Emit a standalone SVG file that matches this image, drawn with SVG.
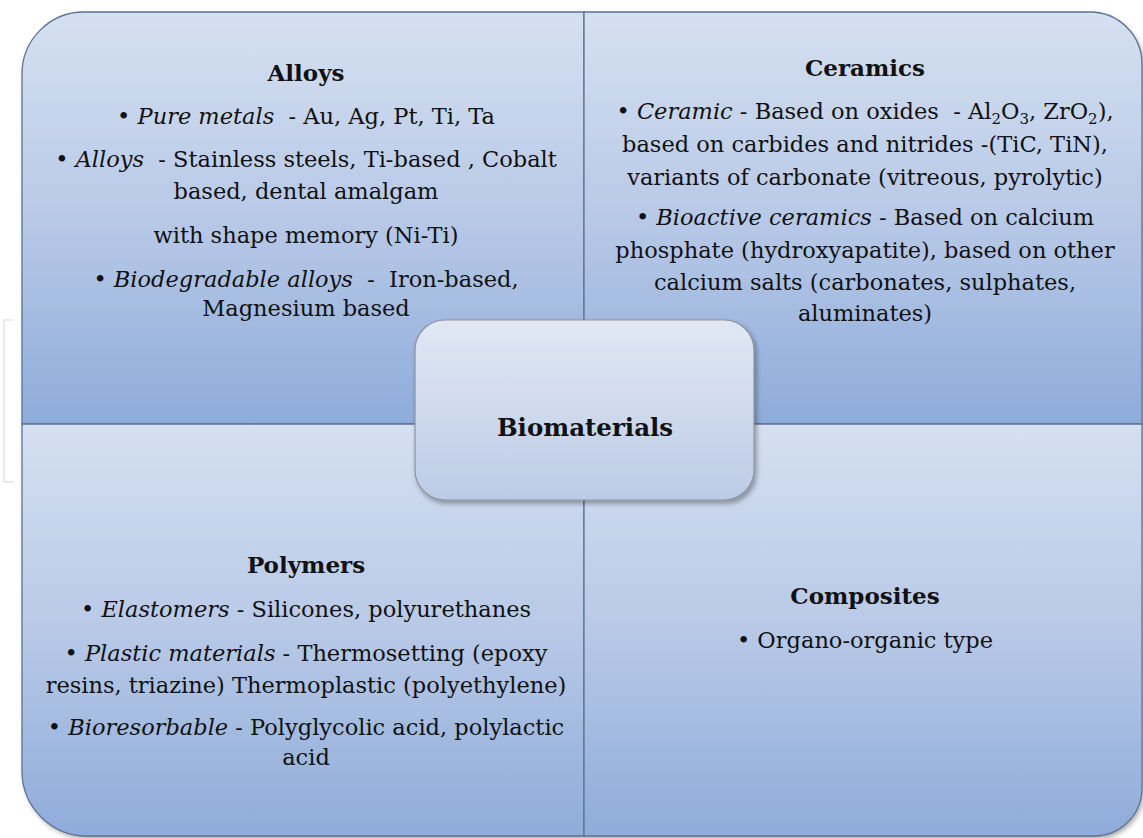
<svg xmlns="http://www.w3.org/2000/svg" width="1143" height="838" viewBox="0 0 1143 838">
<style>
  text { font-family: "DejaVu Serif", "Liberation Serif", serif; font-size: 22.5px; fill: #111; text-anchor: middle; white-space: pre; }
  .h { font-weight: bold; font-size: 23px; }
  .big { font-weight: bold; font-size: 24.5px; }
  .i { font-style: italic; }
  .quad { stroke: #5e7396; stroke-width: 1.3; }
  .sub { font-size: 15px; }
</style>
<defs>
  <linearGradient id="gq" x1="0" y1="0" x2="0" y2="1">
    <stop offset="0" stop-color="#d5e0f1"/>
    <stop offset="0.5" stop-color="#b8c9e7"/>
    <stop offset="1" stop-color="#8eacda"/>
  </linearGradient>
  <linearGradient id="gc" x1="0" y1="0" x2="0" y2="1">
    <stop offset="0" stop-color="#e1e8f4"/>
    <stop offset="1" stop-color="#bccbe6"/>
  </linearGradient>
  <filter id="sh" x="-5%" y="-5%" width="115%" height="115%">
    <feDropShadow dx="2" dy="3" stdDeviation="2.5" flood-color="#000" flood-opacity="0.35"/>
  </filter>
</defs>
<rect width="1143" height="838" fill="#ffffff"/>
<path d="M14,320 H4 V482 H14" fill="none" stroke="#e4e4e4" stroke-width="1.5"/>
<path d="M22,74 A62,62 0 0 1 84,12 H1090 A52,52 0 0 1 1142,64 V789 A48,48 0 0 1 1094,836 H87 A65,65 0 0 1 22,771 Z" fill="#8eacda" filter="url(#sh)"/>

<g id="alloys">
  <path class="quad" d="M22,424 V74 A62,62 0 0 1 84,12 H584 V424 Z" fill="url(#gq)"/>
  <text class="h" x="306" y="81">Alloys</text>
  <text x="306" y="124">• <tspan class="i">Pure metals</tspan>  - Au, Ag, Pt, Ti, Ta</text>
  <text x="306" y="167">• <tspan class="i">Alloys</tspan>  - Stainless steels, Ti-based , Cobalt</text>
  <text x="306" y="199">based, dental amalgam</text>
  <text x="306" y="243">with shape memory (Ni-Ti)</text>
  <text x="306" y="287">• <tspan class="i">Biodegradable alloys</tspan>  -  Iron-based,</text>
  <text x="306" y="316">Magnesium based</text>
</g>

<g id="ceramics">
  <path class="quad" d="M584,12 H1090 A52,52 0 0 1 1142,64 V424 H584 Z" fill="url(#gq)"/>
  <text class="h" x="865" y="76">Ceramics</text>
  <text x="865" y="119">• <tspan class="i">Ceramic</tspan> - Based on oxides  - Al<tspan class="sub" dy="5">2</tspan><tspan dy="-5">O</tspan><tspan class="sub" dy="5">3</tspan><tspan dy="-5">, ZrO</tspan><tspan class="sub" dy="5">2</tspan><tspan dy="-5">),</tspan></text>
  <text x="865" y="152">based on carbides and nitrides -(TiC, TiN),</text>
  <text x="865" y="185">variants of carbonate (vitreous, pyrolytic)</text>
  <text x="865" y="225">• <tspan class="i">Bioactive ceramics</tspan> - Based on calcium</text>
  <text x="865" y="258">phosphate (hydroxyapatite), based on other</text>
  <text x="865" y="290">calcium salts (carbonates, sulphates,</text>
  <text x="865" y="321">aluminates)</text>
</g>

<g id="polymers">
  <path class="quad" d="M22,424 H584 V836 H87 A65,65 0 0 1 22,771 Z" fill="url(#gq)"/>
  <text class="h" x="306" y="573">Polymers</text>
  <text x="306" y="617">• <tspan class="i">Elastomers</tspan> - Silicones, polyurethanes</text>
  <text x="306" y="661">• <tspan class="i">Plastic materials</tspan> - Thermosetting (epoxy</text>
  <text x="306" y="693">resins, triazine) Thermoplastic (polyethylene)</text>
  <text x="306" y="735">• <tspan class="i">Bioresorbable</tspan> - Polyglycolic acid, polylactic</text>
  <text x="306" y="765">acid</text>
</g>

<g id="composites">
  <path class="quad" d="M584,424 H1142 V789 A48,48 0 0 1 1094,836 H584 Z" fill="url(#gq)"/>
  <text class="h" x="865" y="604">Composites</text>
  <text x="865" y="648">• Organo-organic type</text>
</g>

<g id="connectors"></g>

<g id="biomaterials">
  <rect x="415" y="320" width="339" height="180" rx="30" ry="30" fill="url(#gc)" stroke="#8d939c" stroke-width="1.2" filter="url(#sh)"/>
  <text class="big" x="585" y="436">Biomaterials</text>
</g>
</svg>
